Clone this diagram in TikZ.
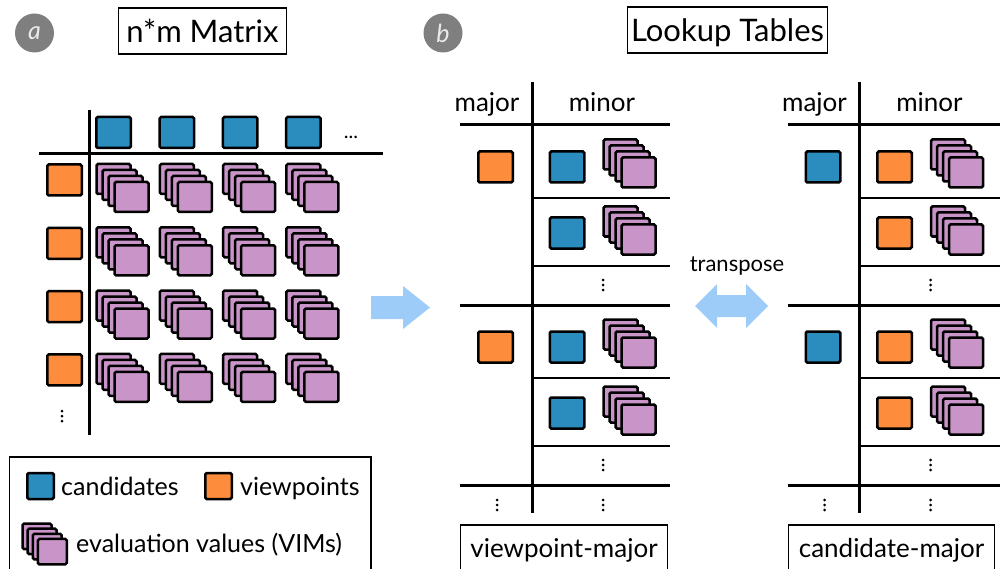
\documentclass[tikz,border=0pt]{standalone}
\usepackage{fontspec}
\setmainfont{Lato}
\usetikzlibrary{positioning}

\definecolor{candblue}{HTML}{2B8CBE}
\definecolor{vieworange}{HTML}{FD8D3C}
\definecolor{vimpurple}{HTML}{C994C7}
\definecolor{arrowblue}{HTML}{9ECCF8}
\definecolor{badgegray}{HTML}{7F7F7F}

\tikzset{
  sq/.style={draw=black, line width=2.5pt, rounded corners=1.5pt,
    minimum width=34.5pt, minimum height=31pt, inner sep=0pt},
  cand/.style={sq, fill=candblue},
  view/.style={sq, fill=vieworange},
  % a stack of four evaluation values
  vims/.pic={
    \foreach \k in {0,...,3}
      \draw[line width=2.5pt, rounded corners=1.5pt, fill=vimpurple]
        (-26+6*\k,-24+6*\k) rectangle (8+6*\k,6+6*\k);
  },
  vdots/.pic={
    \foreach \d in {-5,0,5}
      \fill (0,\d) circle (1.5);
  },
  badge/.style={circle, fill=badgegray, minimum size=39pt, inner sep=0pt,
    text=white!92!black, font=\fontsize{25}{25}\selectfont\itshape},
  titlebox/.style={draw, line width=1.2pt, minimum height=46pt,
    text height=24pt, text depth=0pt, font=\fontsize{31}{31}\selectfont},
  capbox/.style={draw, line width=1.2pt, inner xsep=10pt, minimum height=50pt,
    text height=20pt, text depth=6pt, font=\fontsize{26}{26}\selectfont},
  thickrule/.style={line width=3pt},
  thinrule/.style={line width=1.3pt},
  lbl/.style={font=\fontsize{26}{26}\selectfont},
  lgd/.style={font=\fontsize{25}{25}\selectfont, inner sep=0pt, anchor=base west},
}

\begin{document}
\begin{tikzpicture}[x=1pt, y=-1pt]
  \useasboundingbox (0,0) rectangle (1000,569);

  % headings
  \node[badge] (a) at (34.5,33) {a};
  \node[badge] (b) at (443,33) {b};
  \node[titlebox, minimum width=168pt] (mattitle) at (202.5,31) {n*m Matrix};
  \node[titlebox, minimum width=200pt] (lookuptitle) at (727.5,30) {Lookup Tables};

  % the n*m matrix
  \draw[thickrule] (89,110) -- (89,435);
  \draw[thickrule] (39,154) -- (383,154);
  \foreach \i in {0,...,3} {
    \node[cand] (c\i) at (113.5+63.3*\i,132.5) {};
    \node[view] (v\i) at (64.5,180+63.3*\i) {};
    \foreach \j in {0,...,3}
      \pic at (122.5+63.3*\j,188+63.3*\i) {vims};
  }
  \node[anchor=base, font=\fontsize{20}{20}\selectfont] (more) at (351,139) {...};
  \pic at (62,416) {vdots};

  % legend
  \draw[line width=1.2pt] (9.5,457) rectangle (371,575);
  \node[cand, minimum width=26.5pt, minimum height=26pt] (lc) at (40.5,486) {};
  \node[lgd] (lctext) at (61,495) {candidates};
  \node[view, minimum width=26.5pt, minimum height=26pt] (lv) at (218.5,486) {};
  \node[lgd] (lvtext) at (240,495) {viewpoints};
  \pic[scale=0.85] at (44.7,544) {vims};
  \node[lgd] (lvims) at (76,552) {evaluation values (VIMs)};

  % arrows
  \fill[arrowblue] (371,296) -- (403,296) -- (403,286) -- (430,307.5)
    -- (403,329) -- (403,319) -- (371,319) -- cycle;
  \fill[arrowblue] (695,306) -- (717,284) -- (717,295) -- (746,295) -- (746,284)
    -- (768,306) -- (746,328) -- (746,317) -- (717,317) -- (717,328) -- cycle;
  \node[font=\fontsize{22}{22}\selectfont] (transp) at (737,266) {transpose};

  % the two lookup tables
  \foreach \ox/\xe/\t/\maj/\mnr/\cap in
      {0/670/vp/view/cand/viewpoint-major, 327.5/673/cd/cand/view/candidate-major} {
    \begin{scope}[xshift=\ox]
      \node[lbl, anchor=base] (\t-majorhd) at (487,112) {major};
      \node[lbl, anchor=base] (\t-minorhd) at (602,112) {minor};
      \draw[thickrule] (532,82) -- (532,513);
      \draw[thickrule] (460,125) -- (\xe,125);
      \foreach \g in {0,1} {
        \node[\maj] (\t-maj\g) at (495.5,167+180*\g) {};
        \foreach \r in {0,1} {
          \node[\mnr] (\t-mn\g\r) at (567,167+180*\g+66*\r) {};
          \pic at (629.5,163.5+180*\g+67*\r) {vims};
          \draw[thinrule] (532,198+180*\g+68*\r) -- (\xe,198+180*\g+68*\r);
        }
        \pic at (603,285+180*\g) {vdots};
        \draw[thickrule] (460,305+180*\g) -- (\xe,305+180*\g);
      }
      \pic at (497,505) {vdots};
      \pic at (603,505) {vdots};
      \node[capbox] (\t-cap) at (564,550) {\cap};
    \end{scope}
  }
\end{tikzpicture}
\end{document}
